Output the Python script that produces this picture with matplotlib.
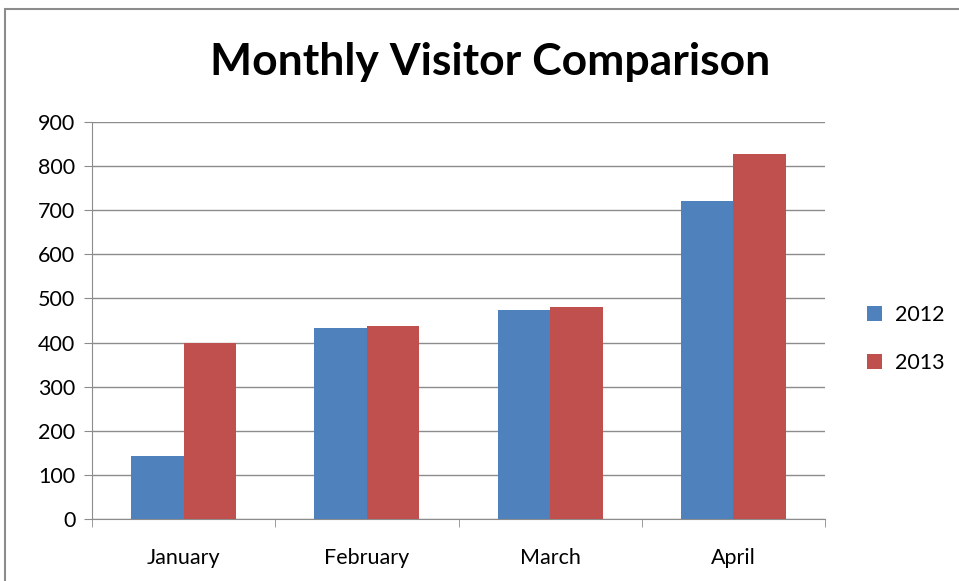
import numpy as np
import matplotlib.pyplot as plt
from matplotlib.patches import Rectangle

months = ["January", "February", "March", "April"]
visitors_2012 = [143, 432, 473, 722]
visitors_2013 = [400, 438, 481, 827]
series_labels = ["2012", "2013"]
yticks = [0, 100, 200, 300, 400, 500, 600, 700, 800, 900]

plt.rcParams['font.family'] = ['Lato', 'DejaVu Sans']

W, H = 959, 581
fig = plt.figure(figsize=(W / 100, H / 100), dpi=100)
ax = fig.add_axes([92 / W, 1 - 519 / H, (825 - 92) / W, (519 - 122) / H])

x = np.arange(len(months))
bw = 0.287
ax.bar(x - bw / 2, visitors_2012, bw, color="#4F81BD", label=series_labels[0], zorder=3)
ax.bar(x + bw / 2, visitors_2013, bw, color="#C0504D", label=series_labels[1], zorder=3)

ax.set_xlim(-0.5, len(months) - 0.5)
ax.set_ylim(0, 900)
ax.set_yticks(yticks)
ax.yaxis.grid(True, color="#8c8c8c", linewidth=1, zorder=0)
ax.set_xticks(x)
ax.set_xticklabels(months)
ax.set_xticks(np.arange(-0.5, len(months)), minor=True)
ax.tick_params(axis="x", which="major", length=0, pad=21, labelsize=15.5)
ax.tick_params(axis="x", which="minor", length=6, color="#8c8c8c")
ax.tick_params(axis="y", length=6, color="#8c8c8c", labelsize=15.5, pad=6)
for s in ["top", "right"]:
    ax.spines[s].set_visible(False)
for s in ["left", "bottom"]:
    ax.spines[s].set_color("#8c8c8c")

fig.text(490 / W, 1 - 62 / H, "Monthly Visitor Comparison", ha="center", va="center",
         fontsize=32, fontweight="bold")

fig.legend(loc="center left", bbox_to_anchor=(848 / W, 1 - 339 / H), frameon=False,
           fontsize=15.5, handlelength=0.7, handleheight=0.7, labelspacing=1.3, handletextpad=0.6)

fig.patches.append(Rectangle((5 / W, -0.1), 1.2, 1 - 9 / H + 0.1, transform=fig.transFigure,
                             fill=False, edgecolor="#8c8c8c", linewidth=1.5))

fig.savefig("out.png", dpi=100)
